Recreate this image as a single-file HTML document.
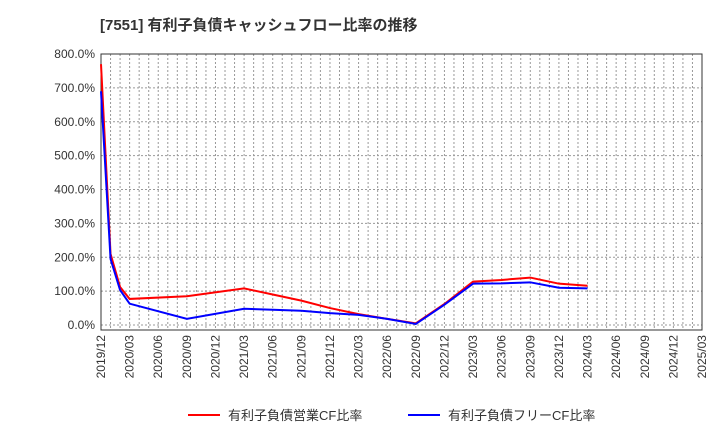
<!DOCTYPE html>
<html><head><meta charset="utf-8"><style>
body{margin:0;background:#fff;font-family:"Liberation Sans","Noto Sans CJK JP",sans-serif;}
</style></head><body>
<svg id="c" width="720" height="440" xmlns="http://www.w3.org/2000/svg">
<text x="100" y="30" font-size="15" font-weight="bold" fill="#333" font-family="Liberation Sans, Noto Sans CJK JP, sans-serif">[7551]  有利子負債キャッシュフロー比率の推移</text>
<g id="grid"></g><g id="axes"></g><g id="series"></g>
<g>
<line x1="188" y1="415" x2="220" y2="415" stroke="#f00" stroke-width="2"/>
<text x="228" y="420" font-size="13" fill="#333">有利子負債営業CF比率</text>
<line x1="408" y1="415" x2="440" y2="415" stroke="#00f" stroke-width="2"/>
<text x="448" y="420" font-size="13" fill="#333">有利子負債フリーCF比率</text>
</g>
</svg>
<script>
const xTickLabels=["2019/12","2020/03","2020/06","2020/09","2020/12","2021/03","2021/06","2021/09","2021/12","2022/03","2022/06","2022/09","2022/12","2023/03","2023/06","2023/09","2023/12","2024/03","2024/06","2024/09","2024/12","2025/03"];
const yTicks=[0,100,200,300,400,500,600,700,800];
const months=[0,1,2,3,9,15,18,21,24,27,30,33,36,39,42,45,48,51];
const opCF=[770,210,112,77,85,108,90,72,50,32,18,5,62,128,133,140,122,116];
const freeCF=[690,195,103,63,18,48,45,42,35,30,18,3,60,122,123,126,110,108];
const L=101,R=702,T=54,B=330,Y0=325;
const x=m=>L+m*(R-L)/63;
const y=v=>Y0-v*(Y0-T)/800;
const NS="http://www.w3.org/2000/svg";
function mk(tag,attrs,parent){const e=document.createElementNS(NS,tag);for(const k in attrs)e.setAttribute(k,attrs[k]);document.getElementById(parent).appendChild(e);return e;}
for(let m=1;m<63;m++){const e=mk("line",{x1:x(m),x2:x(m),y1:T,y2:B,stroke:"#999","stroke-dasharray":"2,2","stroke-width":1},"grid");

}
yTicks.forEach(v=>{const e=mk("line",{x1:L,x2:R,y1:y(v),y2:y(v),stroke:"#999","stroke-dasharray":"2,2"},"grid");


const t=mk("text",{x:L-6,y:y(v)+4,"text-anchor":"end","font-size":12,fill:"#333"},"axes");t.textContent=v.toFixed(1)+"%";

});
const fr=mk("rect",{x:L,y:T,width:R-L,height:B-T,fill:"none",stroke:"#333"},"axes");


xTickLabels.forEach((s,i)=>{const xx=x(i*3);const t=mk("text",{x:0,y:0,transform:`translate(${xx+4},${B+5}) rotate(-90)`,"text-anchor":"end","font-size":12,fill:"#333"},"axes");t.textContent=s;

});
function line(vals,color,name){const p=mk("polyline",{points:vals.map((v,i)=>x(months[i])+","+y(v)).join(" "),fill:"none",stroke:color,"stroke-width":2},"series");

}
line(opCF,"#f00","operating-cf-line");
line(freeCF,"#00f","free-cf-line");
</script>
</body></html>
